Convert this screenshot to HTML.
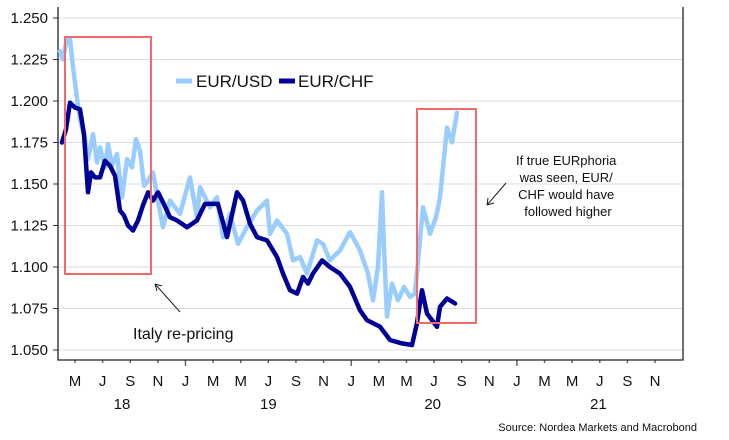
<!DOCTYPE html>
<html><head><meta charset="utf-8"><style>
html,body{margin:0;padding:0;background:#fff;}
svg{display:block;font-family:"Liberation Sans","DejaVu Sans",sans-serif;}
</style></head><body>
<svg id="chart" width="729" height="440" viewBox="0 0 729 440" xmlns="http://www.w3.org/2000/svg">
<g id="grid"></g>
<g id="yaxis"></g>
<g id="xaxis"></g>
<g id="series"></g>
<rect x="65" y="37" width="86" height="237" fill="none" stroke="#f26b6b" stroke-width="2"/>
<rect x="417" y="109" width="59" height="214" fill="none" stroke="#f26b6b" stroke-width="2"/>
<g>
<line x1="176" y1="81" x2="192" y2="81" stroke="#99ccff" stroke-width="5"/>
<text x="196" y="87" font-size="17" fill="#111">EUR/USD</text>
<line x1="279" y1="81" x2="295" y2="81" stroke="#000099" stroke-width="5"/>
<text x="298" y="87" font-size="17" fill="#111">EUR/CHF</text>
</g>
<g>
<line x1="180" y1="312" x2="155" y2="284" stroke="#222" stroke-width="1"/>
<path d="M155,284 l2,7 M155,284 l7,2" stroke="#222" stroke-width="1" fill="none"/>
<text x="133" y="339" font-size="16" fill="#111">Italy re-pricing</text>
</g>
<g>
<line x1="506" y1="183" x2="487" y2="205" stroke="#222" stroke-width="1"/>
<path d="M487,205 l7,-2 M487,205 l1,-7" stroke="#222" stroke-width="1" fill="none"/>
<text font-size="13" fill="#111" text-anchor="middle">
<tspan x="568" y="165">If true EURphoria</tspan>
<tspan x="568" y="182">was seen, EUR/</tspan>
<tspan x="568" y="199">CHF would have</tspan>
<tspan x="568" y="216">followed higher</tspan>
</text>
</g>
<text x="697" y="431" font-size="11" fill="#111" text-anchor="end">Source: Nordea Markets and Macrobond</text>
</svg>
<script>
// time in months since 1 Jan 2018
const usdTimes = [2.91,3.13,3.42,3.64,3.86,4.14,4.36,4.72,4.94,5.30,5.59,5.81,6.17,6.39,6.68,7.04,7.40,7.77,8.13,8.42,8.71,9.00,9.29,9.65,10.01,10.37,10.88,11.60,12.33,12.83,13.05,13.78,14.28,14.72,15.22,15.80,16.45,17.18,17.90,18.12,18.63,19.35,19.79,20.29,20.80,21.52,21.96,22.46,23.19,23.91,24.64,25.22,25.58,25.94,26.23,26.38,26.59,26.95,27.39,27.82,28.26,28.62,28.91,29.20,29.71,30.14,30.43,30.94,31.30,31.66];
const usdValues = [1.230,1.225,1.238,1.237,1.220,1.202,1.189,1.177,1.165,1.180,1.163,1.172,1.160,1.174,1.161,1.168,1.142,1.165,1.160,1.177,1.170,1.149,1.152,1.157,1.140,1.124,1.140,1.132,1.154,1.130,1.148,1.136,1.142,1.118,1.132,1.114,1.124,1.134,1.140,1.120,1.128,1.120,1.104,1.106,1.096,1.116,1.114,1.104,1.110,1.121,1.110,1.096,1.080,1.100,1.145,1.110,1.070,1.090,1.080,1.088,1.082,1.084,1.110,1.136,1.120,1.130,1.142,1.184,1.175,1.193];
const chfTimes = [3.06,3.35,3.64,4.00,4.36,4.65,4.94,5.16,5.45,5.81,6.17,6.53,6.90,7.26,7.55,7.84,8.20,8.56,8.92,9.29,9.65,10.01,10.37,10.88,11.39,12.11,12.83,13.41,14.35,15.01,15.73,16.17,16.67,17.18,17.90,18.63,19.06,19.57,20.08,20.51,20.87,21.23,21.89,22.46,23.19,23.91,24.64,25.14,26.09,26.81,27.68,28.40,28.76,29.13,29.49,30.21,30.43,30.94,31.52];
const chfValues = [1.175,1.183,1.199,1.196,1.195,1.180,1.145,1.157,1.154,1.154,1.164,1.161,1.155,1.134,1.131,1.125,1.122,1.128,1.137,1.145,1.140,1.145,1.139,1.130,1.128,1.124,1.128,1.138,1.138,1.118,1.145,1.140,1.126,1.118,1.116,1.106,1.096,1.086,1.084,1.094,1.090,1.096,1.104,1.100,1.096,1.088,1.074,1.068,1.064,1.056,1.054,1.053,1.066,1.086,1.072,1.064,1.076,1.081,1.078];
const yTicks = [1.050,1.075,1.100,1.125,1.150,1.175,1.200,1.225,1.250];
const yTickLabels = ["1.050","1.075","1.100","1.125","1.150","1.175","1.200","1.225","1.250"];
const monthTicks = [4,6,8,10,12,14,16,18,20,22,24,26,28,30,32,34,36,38,40,42,44,46];
const monthLabels = ["M","J","S","N","J","M","M","J","S","N","J","M","M","J","S","N","J","M","M","J","S","N"];
const yearTimes = [7.4,18.0,29.9,41.9];
const yearLabels = ["18","19","20","21"];

const NS="http://www.w3.org/2000/svg";
const L=58,R=683,T=7,B=360;
function xs(t){return 75+(t-4)*13.81;}
function ys(v){return 18+(1.25-v)*1660;}
function mk(tag,attrs,parent){const e=document.createElementNS(NS,tag);for(const k in attrs)e.setAttribute(k,attrs[k]);parent.appendChild(e);return e;}
const grid=document.getElementById('grid'),ya=document.getElementById('yaxis'),xa=document.getElementById('xaxis'),ser=document.getElementById('series');
yTicks.forEach((v,i)=>{
  const g=mk('line',{x1:L,x2:R,y1:ys(v),y2:ys(v),stroke:'#dcdcdc','stroke-width':1},grid);
  
  
  const tk=mk('line',{x1:L-5,x2:L,y1:ys(v),y2:ys(v),stroke:'#333','stroke-width':1},ya);
  
  
  const t=mk('text',{x:48,y:ys(v)+5,'font-size':15,'text-anchor':'end',fill:'#111'},ya);
  t.textContent=yTickLabels[i];
  
  
});
monthTicks.forEach((m,i)=>{
  const x=xs(m);
  const big=(m%12===0);
  const tk=mk('line',{x1:x,x2:x,y1:B,y2:B+(big?6:3),stroke:'#666','stroke-width':1.5},xa);
  
  
  const t=mk('text',{x:x,y:386,'font-size':15,'text-anchor':'middle',fill:'#111'},xa);
  t.textContent=monthLabels[i];
  
  
});
yearTimes.forEach((m,i)=>{
  const t=mk('text',{x:xs(m),y:409,'font-size':15,'text-anchor':'middle',fill:'#111'},xa);
  t.textContent=yearLabels[i];
  
  
});
const ax=mk('path',{d:`M${L},${T}V${B}H${R}V${T}`,fill:'none',stroke:'#222','stroke-width':1.3},xa);


function line(times,vals,color,name){
  const d=times.map((t,i)=>(i?'L':'M')+xs(t).toFixed(1)+','+ys(vals[i]).toFixed(1)).join('');
  const p=mk('path',{d:d,fill:'none',stroke:color,'stroke-width':4.5,'stroke-linejoin':'round','stroke-linecap':'round'},ser);
  
  
}
line(usdTimes,usdValues,'#99ccff','eurusd-line');
line(chfTimes,chfValues,'#000099','eurchf-line');
</script>
</body></html>
